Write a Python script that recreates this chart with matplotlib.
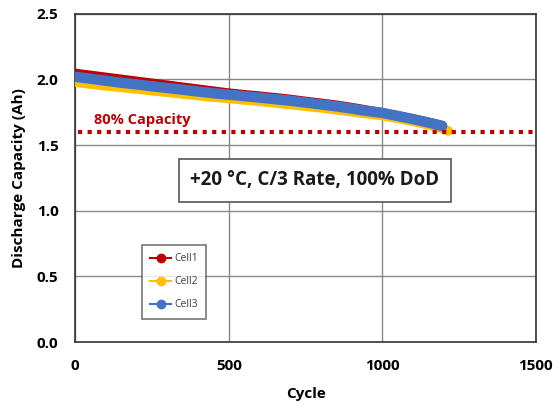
import numpy as np
import matplotlib
matplotlib.use('Agg')
import matplotlib.pyplot as plt

plt.rcParams['font.family'] = ['Open Sans', 'DejaVu Sans']

# cycle counts and discharge capacity (Ah)
cycles = [0, 50, 100, 150, 200, 250, 300, 350, 400, 450, 500, 550, 600,
          650, 700, 750, 800, 850, 900, 950, 1000, 1050, 1100, 1150, 1195]
cell1 = [2.045, 2.03, 2.015, 2.0, 1.985, 1.97, 1.955, 1.94, 1.925, 1.91, 1.895,
         1.883, 1.872, 1.86, 1.847, 1.832, 1.818, 1.803, 1.785, 1.765, 1.745,
         1.722, 1.698, 1.672, 1.648]
cell2 = [1.98, 1.965, 1.952, 1.94, 1.928, 1.915, 1.903, 1.89, 1.878, 1.866, 1.856,
         1.845, 1.834, 1.822, 1.81, 1.797, 1.784, 1.77, 1.755, 1.74, 1.725,
         1.705, 1.682, 1.655, 1.628]
cell3 = [2.02, 2.005, 1.99, 1.975, 1.962, 1.948, 1.935, 1.922, 1.908, 1.895, 1.884,
         1.873, 1.862, 1.85, 1.838, 1.824, 1.81, 1.795, 1.778, 1.76, 1.745,
         1.722, 1.698, 1.672, 1.646]
cell2_tail_x = [1200, 1215]
cell2_tail_y = [1.622, 1.608]

names = ['Cell1', 'Cell2', 'Cell3']
colors = ['#C00000', '#FFC000', '#4472C4']

fig = plt.figure(figsize=(5.53, 4.04), dpi=100)
ax = fig.add_axes([0.136, 0.153, 0.833, 0.813])

ax.plot(cycles + cell2_tail_x, cell2 + cell2_tail_y, '-', color=colors[1],
        lw=7, solid_capstyle='round', zorder=3)
ax.plot(cycles, cell1, '-', color=colors[0], lw=7, solid_capstyle='round', zorder=2)
ax.plot(cycles, cell3, '-', color=colors[2], lw=7.5, solid_capstyle='round', zorder=4)

# legend handles (small markers like the original)
handles = []
for n, c in zip(names, colors):
    h, = ax.plot([], [], '-o', color=c, lw=1.5, ms=6, label=n)
    handles.append(h)
leg = ax.legend(handles=handles, loc='upper left', bbox_to_anchor=(0.145, 0.296),
                fontsize=7.5, frameon=True, fancybox=False, borderpad=0.8,
                labelspacing=1.15, handlelength=2.0, handletextpad=0.3,
                borderaxespad=0)
leg.get_frame().set_edgecolor('#555555')
leg.get_frame().set_linewidth(1.2)
for t in leg.get_texts():
    t.set_color('#404040')

# 80% capacity line
ax.axhline(1.6, xmin=0.005, xmax=0.995, color='#C00000', lw=3,
           linestyle=(0, (1, 1.3)), zorder=5)
ax.text(60, 1.69, '80% Capacity', color='#C00000', fontsize=10.5,
        fontweight='bold', ha='left', va='center')

ax.text(781, 1.232, '+20 \u00b0C, C/3 Rate, 100% DoD', fontsize=13.5,
        fontweight='bold', ha='center', va='center', color='#1a1a1a', zorder=6,
        bbox=dict(boxstyle='square,pad=0.6', fc='white', ec='#555555', lw=1.2))

ax.set_xlim(0, 1500)
ax.set_ylim(0, 2.5)
ax.set_xticks([0, 500, 1000, 1500])
ax.set_yticks(np.arange(0, 2.51, 0.5))
ax.set_yticklabels(['0.0', '0.5', '1.0', '1.5', '2.0', '2.5'])
ax.grid(True, color='#888888', lw=1)
ax.set_axisbelow(True)
ax.tick_params(length=0, pad=12, labelsize=11)
for lab in ax.get_xticklabels() + ax.get_yticklabels():
    lab.set_fontweight('bold')
for s in ax.spines.values():
    s.set_color('#333333')
    s.set_linewidth(1.2)

ax.set_xlabel('Cycle', fontsize=11, fontweight='bold', labelpad=10)
ax.set_ylabel('Discharge Capacity (Ah)', fontsize=11, fontweight='bold', labelpad=8)

fig.savefig('out.png', dpi=100)
